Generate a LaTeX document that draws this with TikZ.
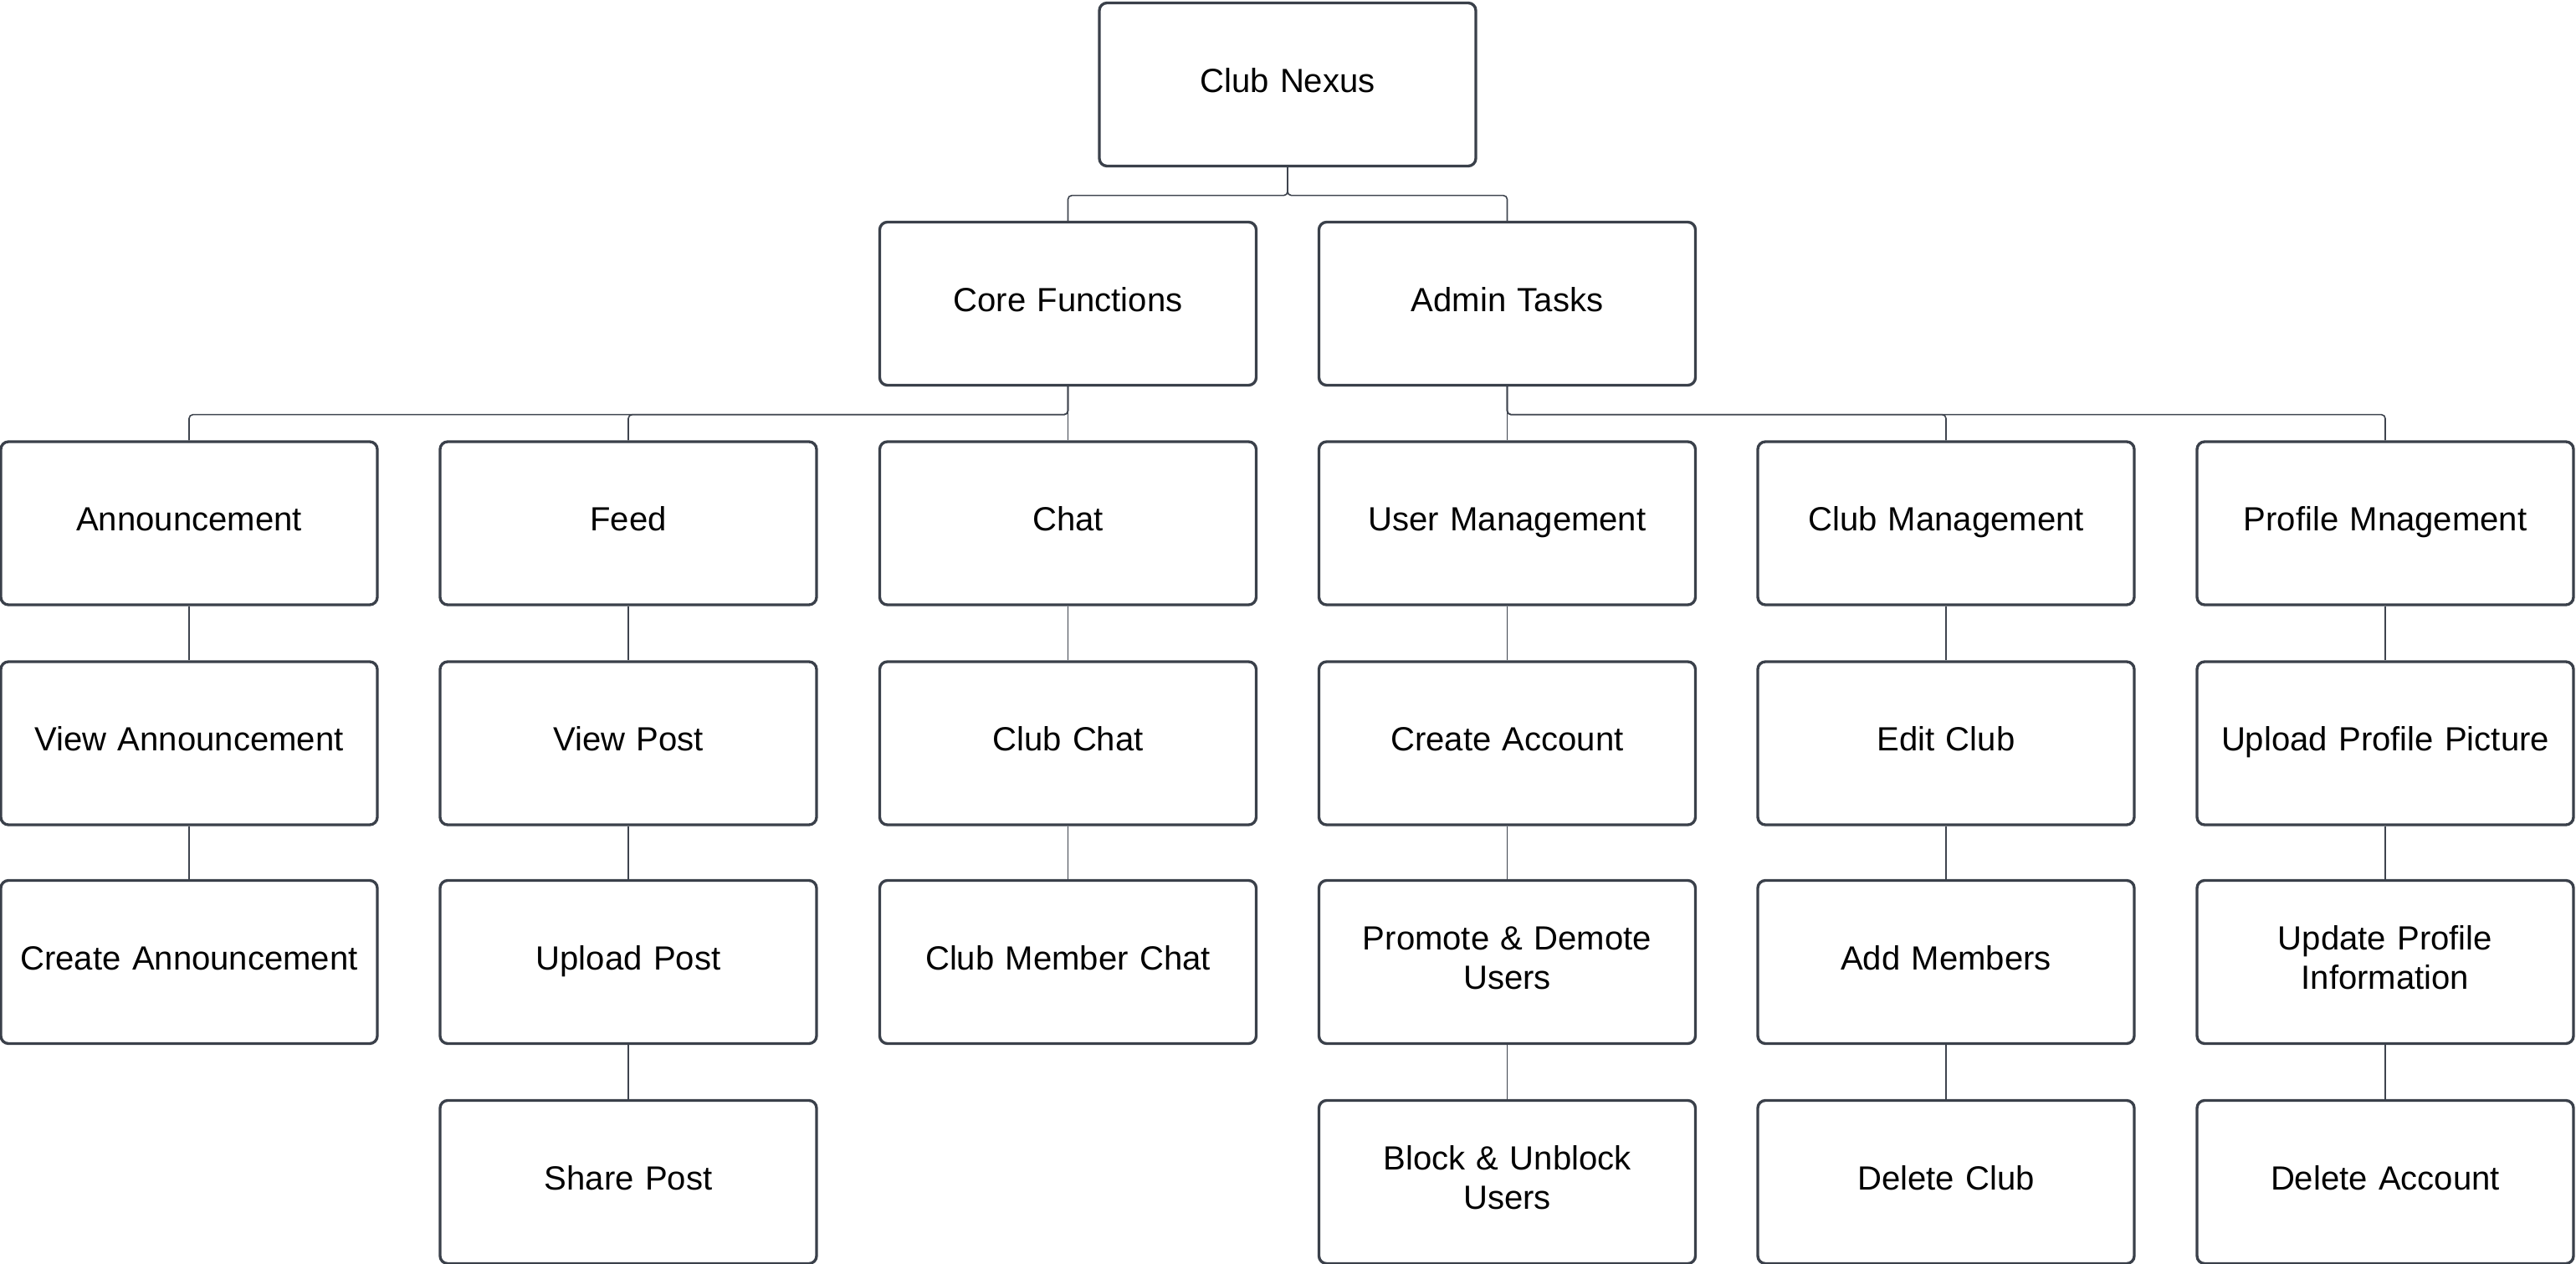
\documentclass[tikz,border=0pt]{standalone}
\usepackage{fontspec}
\setmainfont{Liberation Sans}
\begin{document}
\definecolor{boxc}{RGB}{58,64,74}
\definecolor{linec}{RGB}{62,68,78}
\begin{tikzpicture}[
  box/.style={draw=boxc, line width=0.95pt, rounded corners=2.6pt, fill=white,
    minimum width=4.5cm, minimum height=1.95cm, inner sep=0pt,
    text width=4.4cm, align=center, font=\fontsize{11.4}{13.4}\selectfont,
    execute at begin node={\strut}, execute at end node={\strut}},
  conn/.style={draw=linec, line width=0.45pt, rounded corners=1.3pt}
]
\useasboundingbox (0,0) rectangle (30.79,-15.11);
\node[box] (root) at (15.39,-1.01) {Club Nexus};
\node[box] (core) at (12.765,-3.63) {Core Functions};
\node[box] (admin) at (18.015,-3.63) {Admin Tasks};

\node[box] (ann) at (2.26,-6.255) {Announcement};
\node[box] (feed) at (7.51,-6.255) {Feed};
\node[box] (chat) at (12.765,-6.255) {Chat};
\node[box] (um) at (18.015,-6.255) {User Management};
\node[box] (cm) at (23.26,-6.255) {Club Management};
\node[box] (pm) at (28.51,-6.255) {Profile Mnagement};

\node[box] (va) at (2.26,-8.885) {View Announcement};
\node[box] (vp) at (7.51,-8.885) {View Post};
\node[box] (cc) at (12.765,-8.885) {Club Chat};
\node[box] (ca) at (18.015,-8.885) {Create Account};
\node[box] (ec) at (23.26,-8.885) {Edit Club};
\node[box] (upp) at (28.51,-8.885) {Upload Profile Picture};

\node[box] (cra) at (2.26,-11.50) {Create Announcement};
\node[box] (up) at (7.51,-11.50) {Upload Post};
\node[box] (cmc) at (12.765,-11.50) {Club Member Chat};
\node[box] (pdu) at (18.015,-11.50) {Promote \& Demote\\Users};
\node[box] (am) at (23.26,-11.50) {Add Members};
\node[box] (upi) at (28.51,-11.50) {Update Profile\\Information};

\node[box] (sp) at (7.51,-14.13) {Share Post};
\node[box] (bu) at (18.015,-14.13) {Block \& Unblock\\Users};
\node[box] (dc) at (23.26,-14.13) {Delete Club};
\node[box] (da) at (28.51,-14.13) {Delete Account};

% root level
\draw[conn] (root.south) -- ++(0,-0.335) -| (core.north);
\draw[conn] (root.south) -- ++(0,-0.335) -| (admin.north);
% core
\draw[conn] (core.south) -- ++(0,-0.335) -| (ann.north);
\draw[conn] (core.south) -- ++(0,-0.335) -| (feed.north);
\draw[conn] (core.south) -- (chat.north);
% admin
\draw[conn] (admin.south) -- (um.north);
\draw[conn] (admin.south) -- ++(0,-0.335) -| (cm.north);
\draw[conn] (admin.south) -- ++(0,-0.335) -| (pm.north);
% chains
\draw[conn] (ann.south) -- (va.north);
\draw[conn] (va.south) -- (cra.north);
\draw[conn] (feed.south) -- (vp.north);
\draw[conn] (vp.south) -- (up.north);
\draw[conn] (up.south) -- (sp.north);
\draw[conn] (chat.south) -- (cc.north);
\draw[conn] (cc.south) -- (cmc.north);
\draw[conn] (um.south) -- (ca.north);
\draw[conn] (ca.south) -- (pdu.north);
\draw[conn] (pdu.south) -- (bu.north);
\draw[conn] (cm.south) -- (ec.north);
\draw[conn] (ec.south) -- (am.north);
\draw[conn] (am.south) -- (dc.north);
\draw[conn] (pm.south) -- (upp.north);
\draw[conn] (upp.south) -- (upi.north);
\draw[conn] (upi.south) -- (da.north);
\end{tikzpicture}
\end{document}
